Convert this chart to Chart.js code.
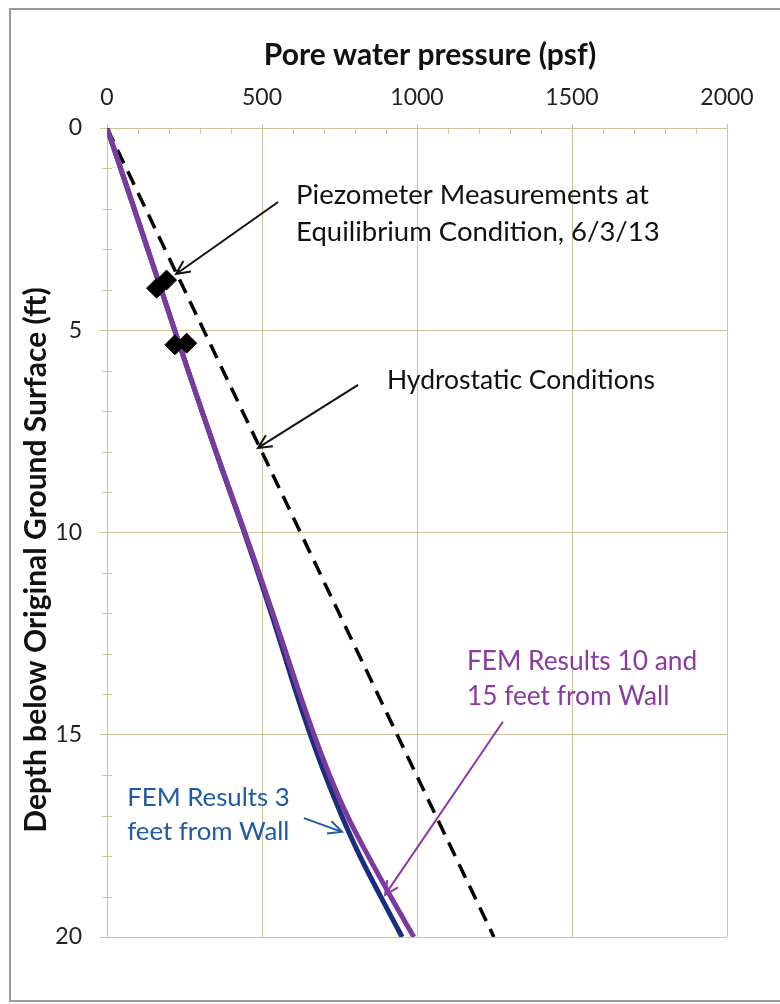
<!DOCTYPE html>
<html>
<head>
<meta charset="utf-8">
<script src="https://cdn.jsdelivr.net/npm/chart.js@4.4.1/dist/chart.umd.min.js"></script>
<style>
  html, body { margin: 0; padding: 0; background: #fff; }
  canvas { display: block; }
</style>
</head>
<body>
<canvas id="grafico" width="780" height="1004"></canvas>
<script>
// Dados
const depthFt = [0, 2, 4, 6, 8, 10, 12, 14, 15, 16, 17, 18, 19, 20];
const fem10and15Psf = [0, 88, 175, 262, 352, 445, 535, 622, 668, 718, 775, 843, 915, 990];
const fem3Psf = [0, 88, 175, 262, 351, 443, 530, 612, 656, 704, 757, 816, 883, 952];
const hydroDepthFt = [0, 20];
const hydroPsf = [0, 1248];
const piezoPsf = [160, 192, 219, 257];
const piezoDepthFt = [3.96, 3.76, 5.36, 5.32];
const xTicks = [0, 500, 1000, 1500, 2000];
const yTicks = [0, 5, 10, 15, 20];

const pares = (xs, ys) => xs.map((x, i) => ({ x: x, y: ys[i] }));

const corGrade = '#cfc39b';
const fonte = 'Lato, "Open Sans", sans-serif';

// Marcas menores, moldura, títulos e anotações
const extras = {
    id: 'extras',
    beforeDraw(chart) {
        const c = chart.ctx;
        c.save();
        c.fillStyle = '#fff';
        c.fillRect(0, 0, chart.width, chart.height);
        c.strokeStyle = '#9b9b9b';
        c.lineWidth = 2;
        c.strokeRect(10, 9, 790, 992);
        c.restore();
    },
    afterDraw(chart) {
        const c = chart.ctx;
        const x = chart.scales.x, y = chart.scales.y;
        const a = chart.chartArea;
        c.save();
        // minor ticks
        c.strokeStyle = corGrade;
        c.lineWidth = 1;
        for (let v = 100; v < 2000; v += 100) {
            if (v % 500 === 0) continue;
            const px = Math.round(x.getPixelForValue(v)) + 0.5;
            c.beginPath(); c.moveTo(px, a.top); c.lineTo(px, a.top + 6); c.stroke();
        }
        for (let d = 1; d < 20; d++) {
            if (d % 5 === 0) continue;
            const py = Math.round(y.getPixelForValue(d)) + 0.5;
            c.beginPath(); c.moveTo(a.left - 5, py); c.lineTo(a.left + 5, py); c.stroke();
        }
        // axis titles
        c.fillStyle = '#111';
        c.font = 'bold 30px ' + fonte;
        c.textAlign = 'center';
        c.textBaseline = 'middle';
        c.fillText('Pore water pressure (psf)', 430, 55);
        c.save();
        c.translate(36, 560);
        c.rotate(-Math.PI / 2);
        c.fillText('Depth below Original Ground Surface (ft)', 0, 0);
        c.restore();

        const P = (vx, vy) => [x.getPixelForValue(vx), y.getPixelForValue(vy)];
        const seta = (de, para, cor, largura) => {
            const [x1, y1] = P(de[0], de[1]);
            const [x2, y2] = P(para[0], para[1]);
            const ang = Math.atan2(y2 - y1, x2 - x1);
            c.strokeStyle = cor;
            c.lineWidth = largura;
            c.beginPath();
            c.moveTo(x1, y1); c.lineTo(x2, y2);
            c.moveTo(x2 - 15 * Math.cos(ang - 0.45), y2 - 15 * Math.sin(ang - 0.45));
            c.lineTo(x2, y2);
            c.lineTo(x2 - 15 * Math.cos(ang + 0.45), y2 - 15 * Math.sin(ang + 0.45));
            c.stroke();
        };
        const texto = (linhas, at, cor, passo, tam) => {
            const [tx, ty] = P(at[0], at[1]);
            c.fillStyle = cor;
            c.font = tam + 'px ' + fonte;
            c.textAlign = 'left';
            c.textBaseline = 'middle';
            linhas.forEach((l, i) => c.fillText(l, tx, ty + i * passo));
        };
        texto(['Piezometer Measurements at', 'Equilibrium Condition, 6/3/13'], [610, 1.66], '#111', 37, 27.5);
        seta([552, 1.83], [223, 3.61], '#111', 2);
        texto(['Hydrostatic Conditions'], [903, 6.23], '#111', 0, 26.5);
        seta([810, 6.35], [487, 7.91], '#111', 2);
        texto(['FEM Results 10 and', '15 feet from Wall'], [1161, 13.2], '#8a3aa0', 35, 26.3);
        seta([1277, 14.68], [897, 18.96], '#8a3aa0', 2);
        texto(['FEM Results 3', 'feet from Wall'], [65, 16.56], '#1f5aa6', 34, 25.8);
        seta([635, 17.06], [758, 17.40], '#1f5aa6', 2);
        c.restore();
    }
};

const config = {
    type: 'scatter',
    data: {
        datasets: [
            {
                label: 'Piezometer',
                data: pares(piezoPsf, piezoDepthFt),
                pointStyle: 'rectRot',
                pointRadius: 10,
                backgroundColor: '#000',
                borderColor: '#000',
                borderWidth: 1,
                order: 0
            },
            {
                label: 'FEM 10 and 15 ft',
                data: pares(fem10and15Psf, depthFt),
                showLine: true,
                borderColor: '#7a3b9e',
                borderWidth: 5,
                pointRadius: 0,
                tension: 0.4,
                order: 1
            },
            {
                label: 'FEM 3 ft',
                data: pares(fem3Psf, depthFt),
                showLine: true,
                borderColor: '#1b2e7e',
                borderWidth: 5,
                pointRadius: 0,
                tension: 0.4,
                order: 2
            },
            {
                label: 'Hydrostatic',
                data: pares(hydroPsf, hydroDepthFt),
                showLine: true,
                borderColor: '#000',
                borderWidth: 3.5,
                borderDash: [15, 9],
                pointRadius: 0,
                order: 3
            }
        ]
    },
    options: {
        responsive: false,
        devicePixelRatio: 1,
        animation: false,
        layout: { padding: { left: 0, top: 0, right: 53, bottom: 67 } },
        plugins: { legend: { display: false }, tooltip: { enabled: false } },
        scales: {
            x: {
                position: 'top',
                min: 0, max: 2000,
                afterBuildTicks: s => { s.ticks = xTicks.map(v => ({ value: v })); },
                afterFit: s => { s.height = 128; },
                grid: { color: corGrade, tickLength: 4, tickColor: corGrade },
                border: { color: corGrade },
                ticks: { color: '#222', padding: 13, font: { family: fonte, size: 23 }, maxRotation: 0,
                         callback: v => String(v) }
            },
            y: {
                reverse: true,
                min: 0, max: 20,
                afterBuildTicks: s => { s.ticks = yTicks.map(v => ({ value: v })); },
                afterFit: s => { s.width = 107; },
                grid: { color: corGrade, tickLength: 7, tickColor: corGrade },
                border: { color: corGrade },
                ticks: { color: '#222', padding: 18, font: { family: fonte, size: 23 },
                         callback: v => String(v) }
            }
        }
    },
    plugins: [extras]
};

const grafico = new Chart(document.getElementById('grafico').getContext('2d'), config);
</script>
</body>
</html>
